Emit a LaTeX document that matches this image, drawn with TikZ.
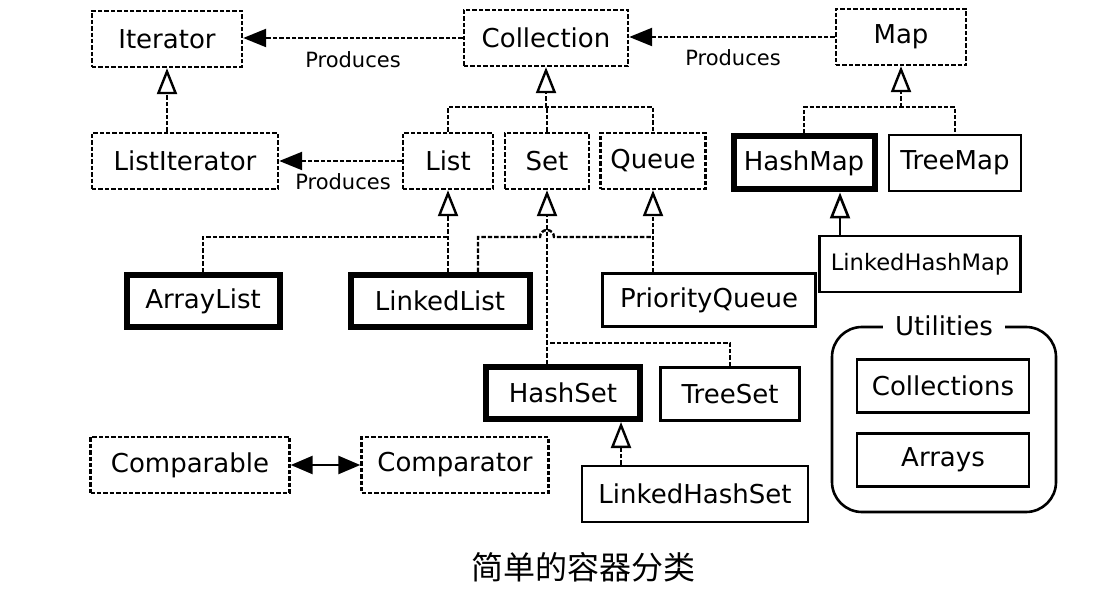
\documentclass[tikz,border=0pt]{standalone}
\usepackage{fontspec}
\setmainfont{DejaVu Sans}
\newfontfamily\cjk{Noto Sans CJK SC}
\usetikzlibrary{arrows.meta}

\begin{document}
\begin{tikzpicture}[
  x=0.5pt, y=-0.5pt,
  iface/.style={
    draw, dash pattern=on 2.2pt off 1pt, line width=1.2pt,
    minimum height=28pt, inner sep=0pt, fill=white,
    font=\fontsize{13}{15}\selectfont
  },
  impl/.style={iface, solid, line width=1.3pt},
  keyimpl/.style={iface, solid, line width=3pt},
  dline/.style={line width=1.2pt, dash pattern=on 2.2pt off 1pt},
  sline/.style={line width=1.3pt},
  lbl/.style={font=\fontsize{10.5}{12}\selectfont, inner sep=0pt},
  inh/.style={-{Triangle[open,length=13pt,width=10pt]}},
  prod/.style={-{Triangle[length=11.5pt,width=9pt]}}
]
\useasboundingbox (0,0) rectangle (1108,604);
%% INTERFACES
\node[iface, minimum width=75pt]   (Iterator)     at (167,39)  {Iterator};
\node[iface, minimum width=82pt]   (Collection)   at (546,38)  {Collection};
\node[iface, minimum width=65pt]   (Map)          at (901,37)  {Map};
\node[iface, minimum width=93pt]   (ListIterator) at (185,161) {ListIterator};
\node[iface, minimum width=45pt]   (List)         at (448,161) {List};
\node[iface, minimum width=42pt]   (Set)          at (547,161) {Set};
\node[iface, minimum width=52.5pt] (Queue)        at (653,161) {Queue};
\node[iface, minimum width=99.5pt] (Comparable)   at (190,465) {Comparable};
\node[iface, minimum width=93.5pt] (Comparator)   at (455,465) {Comparator};
%% KEY IMPLEMENTATIONS
\node[keyimpl, minimum width=70.5pt, minimum height=26.5pt] (HashMap)    at (804,163) {HashMap};
\node[keyimpl, minimum width=76.5pt, minimum height=26pt]   (ArrayList)  at (203,301) {ArrayList};
\node[keyimpl, minimum width=89.5pt, minimum height=26pt]   (LinkedList) at (440,301) {LinkedList};
\node[keyimpl, minimum width=77pt,   minimum height=26pt]   (HashSet)    at (563,393) {HashSet};
%% OTHER IMPLEMENTATIONS
\node[impl, minimum width=66pt]    (TreeMap)       at (955,163) {TreeMap};
\node[impl, minimum width=100.5pt, font=\fontsize{11.3}{13}\selectfont]
                                   (LinkedHashMap) at (920,264) {LinkedHashMap};
\node[impl, minimum width=106.5pt, minimum height=26.5pt] (PriorityQueue) at (709,300) {PriorityQueue};
\node[impl, minimum width=69.5pt,  minimum height=26.5pt] (TreeSet)       at (730,394) {TreeSet};
\node[impl, minimum width=113pt]   (LinkedHashSet) at (695,494) {LinkedHashSet};
%% UTILITIES
\node[draw, rounded corners=15pt, line width=1.3pt,
      minimum width=112pt, minimum height=92.5pt] (UtilBox) at (944,419.5) {};
\node[fill=white, inner xsep=6pt, inner ysep=0pt,
      font=\fontsize{13}{15}\selectfont] (UtilLbl) at (UtilBox.north) {Utilities};
\node[impl, minimum width=86pt, minimum height=26.5pt] (Collections) at (943,386) {Collections};
\node[impl, minimum width=86pt, minimum height=26.5pt] (Arrays)      at (943,460) {Arrays};
%% PRODUCES
\draw[dline,prod] (Collection.west) -- (Iterator.east |- Collection.west);
\draw[dline,prod] (Map.west) -- (Collection.east |- Map.west);
\draw[dline,prod] (List.west) -- (ListIterator.east);
\node[lbl] (Prod1) at (353,60)  {Produces};
\node[lbl] (Prod2) at (733,58)  {Produces};
\node[lbl] (Prod3) at (343,182) {Produces};
%% INHERITANCE
\draw[dline,inh] (ListIterator.north -| Iterator) -- (Iterator.south);
% collection family
\coordinate (CBar) at (546,107);
\draw[dline,inh] (CBar) -- (Collection.south);
\draw[dline] (List.north) |- (CBar) -| (Queue.north);
\draw[dline] (Set.north) -- (Set.north |- CBar);
% map family
\coordinate (MBar) at (901,107);
\draw[dline,inh] (MBar) -- (Map.south);
\draw[dline] (HashMap.north) |- (MBar) -| (TreeMap.north);
\coordinate (LHMx) at (840,0);
\draw[sline,inh] (LinkedHashMap.north -| LHMx) -- (HashMap.south -| LHMx);
% lists
\coordinate (LBar) at (448,237);
\draw[dline,inh] (LinkedList.north -| List) -- (List.south);
\draw[dline] (ArrayList.north) |- (LBar);
% queues (hop over the Set line)
\coordinate (QBar) at (653,237);
\coordinate (LLx)  at (478,0);
\coordinate (HopL) at (540,237);
\draw[dline,inh] (PriorityQueue.north -| Queue) -- (Queue.south);
\draw[dline] (LinkedList.north -| LLx) |- (HopL)
  arc[start angle=180, end angle=360, radius=7] -- (QBar);
% sets
\coordinate (SBar) at (547,343);
\draw[dline,inh] (HashSet.north -| Set) -- (Set.south);
\draw[dline] (TreeSet.north) |- (SBar);
\coordinate (LHSx) at (621,0);
\draw[dline,inh] (LinkedHashSet.north -| LHSx) -- (HashSet.south -| LHSx);
%% COMPARISON
\draw[sline,{Triangle[length=11pt,width=9pt]}-{Triangle[length=11pt,width=9pt]}]
  (Comparable.east) -- (Comparator.west);
%% CAPTION
\node[font=\cjk\fontsize{16}{18}\selectfont] (Caption) at (583,567) {简单的容器分类};
\end{tikzpicture}
\end{document}
